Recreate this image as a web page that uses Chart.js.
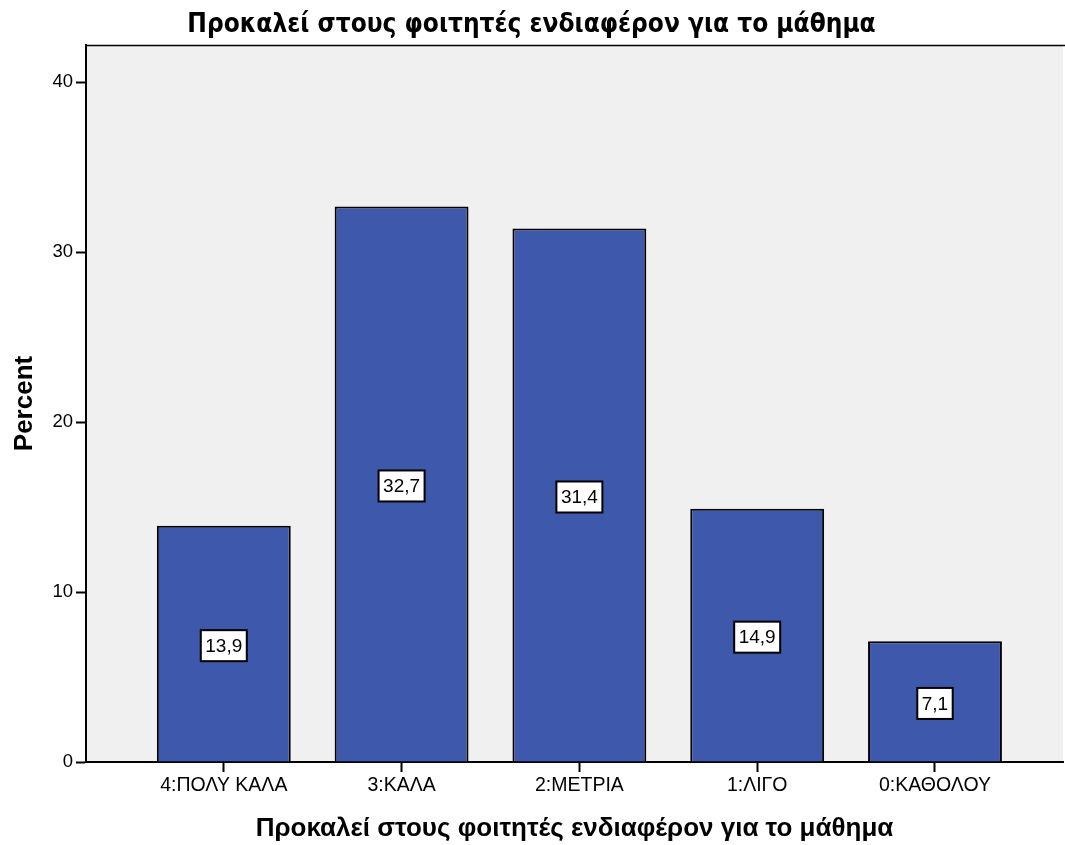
<!DOCTYPE html>
<html>
<head>
<meta charset="utf-8">
<script src="https://cdn.jsdelivr.net/npm/chart.js@4"></script>
<style>
html,body{margin:0;padding:0;background:#fff;}
#wrap{width:1065px;height:845px;}
</style>
</head>
<body>
<div id="wrap"><canvas id="c" width="1065" height="845"></canvas></div>
<script>
const chartTitle = "Προκαλεί στους φοιτητές ενδιαφέρον για το μάθημα";
const categories = ["4:ΠΟΛΥ ΚΑΛΑ", "3:ΚΑΛΑ", "2:ΜΕΤΡΙΑ", "1:ΛΙΓΟ", "0:ΚΑΘΟΛΟΥ"];
const percentValues = [13.9, 32.7, 31.4, 14.9, 7.1];
const yTicks = [0, 10, 20, 30, 40];
const yAxisTitle = "Percent";
const xAxisTitle = "Προκαλεί στους φοιτητές ενδιαφέρον για το μάθημα";

const points = percentValues.map((v, i) => ({x: i, y: v}));

const bgPlugin = {
  id: 'bgPlugin',
  beforeDraw(chart) {
    const {ctx, chartArea: a} = chart;
    ctx.save();
    ctx.fillStyle = '#f0f0f0';
    ctx.fillRect(a.left, a.top, a.right - a.left, a.bottom - a.top);
    ctx.strokeStyle = '#000';
    ctx.lineWidth = 1.5;
    ctx.beginPath();
    ctx.moveTo(a.left, a.top + 0.5);
    ctx.lineTo(chart.width, a.top + 0.5);
    ctx.stroke();
    ctx.restore();
  }
};

const labelPlugin = {
  id: 'labelPlugin',
  afterDatasetsDraw(chart) {
    const {ctx} = chart;
    const meta = chart.getDatasetMeta(0);
    ctx.save();
    ctx.font = '19px "Liberation Sans", Arial, sans-serif';
    ctx.textAlign = 'center';
    ctx.textBaseline = 'middle';
    meta.data.forEach((bar, i) => {
      const txt = percentValues[i].toFixed(1).replace('.', ',');
      const w = ctx.measureText(txt).width + 9;
      const h = 31;
      const cx = bar.x;
      const cy = (bar.y + bar.base) / 2 + 2;
      ctx.fillStyle = '#fff';
      ctx.fillRect(cx - w / 2, cy - h / 2, w, h);
      ctx.strokeStyle = '#000';
      ctx.lineWidth = 2;
      ctx.strokeRect(cx - w / 2, cy - h / 2, w, h);
      ctx.fillStyle = '#000';
      ctx.fillText(txt, cx, cy + 1);
    });
    ctx.restore();
  }
};

new Chart(document.getElementById('c'), {
  type: 'bar',
  data: {
    datasets: [{
      data: points,
      backgroundColor: '#3e58ab',
      borderColor: '#000',
      borderWidth: 2,
      barPercentage: 0.753,
      categoryPercentage: 1.0
    }]
  },
  options: {
    responsive: false,
    animation: false,
    devicePixelRatio: 1,
    layout: {padding: {left: 0, right: 2, top: 0, bottom: 0}},
    plugins: {
      legend: {display: false},
      tooltip: {enabled: false},
      title: {
        display: true,
        text: chartTitle,
        color: '#000',
        font: {family: '"DejaVu Sans Condensed", "Liberation Sans", Arial, sans-serif', size: 26, weight: 'bold'},
        padding: {top: 10, bottom: 3.8}
      }
    },
    scales: {
      x: {
        type: 'linear',
        offset: false,
        min: -0.775,
        max: 4.72,
        afterFit(scale) { scale.height = 83; },
        afterBuildTicks(scale) { scale.ticks = categories.map((c, i) => ({value: i})); },
        grid: {offset: false, drawOnChartArea: false, tickLength: 10, tickColor: '#000', tickWidth: 2},
        border: {display: true, color: '#000', width: 2},
        ticks: {
          autoSkip: false,
          maxRotation: 0,
          padding: 2,
          color: '#000',
          font: {family: '"Liberation Sans", Arial, sans-serif', size: 19.5},
          callback: (v) => categories[v] !== undefined ? categories[v] : ''
        },
        title: {
          display: true,
          text: xAxisTitle,
          color: '#000',
          font: {family: '"Liberation Sans", Arial, sans-serif', size: 26, weight: 'bold'},
          padding: {top: 0, bottom: 1}
        }
      },
      y: {
        min: 0,
        max: 42.2,
        afterFit(scale) { scale.width = 86; },
        afterBuildTicks(scale) { scale.ticks = yTicks.map(v => ({value: v})); },
        grid: {drawOnChartArea: false, tickLength: 10, tickColor: '#000', tickWidth: 2},
        border: {display: true, color: '#000', width: 2},
        ticks: {
          padding: 3,
          color: '#000',
          font: {family: '"Liberation Sans", Arial, sans-serif', size: 18.5}
        },
        title: {
          display: true,
          text: yAxisTitle,
          color: '#000',
          font: {family: '"Liberation Sans", Arial, sans-serif', size: 26, weight: 'bold'},
          padding: {top: 9, bottom: 0}
        }
      }
    }
  },
  plugins: [bgPlugin, labelPlugin]
});
</script>
</body>
</html>
